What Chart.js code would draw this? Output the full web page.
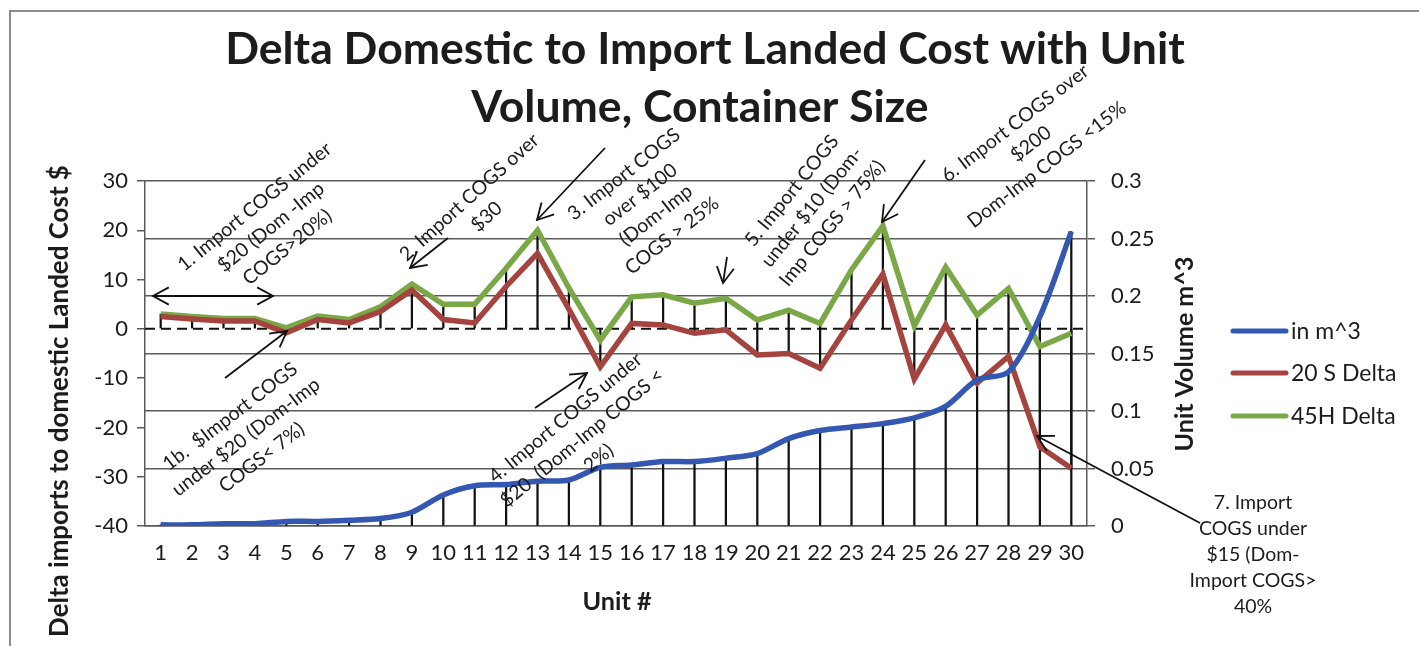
<!DOCTYPE html>
<html><head><meta charset="utf-8">
<script src="https://cdn.jsdelivr.net/npm/chart.js@4.4.1/dist/chart.umd.min.js"></script>
<style>html,body{margin:0;padding:0;background:#fff}canvas{display:block}</style>
</head><body>
<canvas id="c" width="1419" height="646"></canvas>
<script>
// ---------- data ----------
const units = ['1','2','3','4','5','6','7','8','9','10','11','12','13','14','15','16','17','18','19','20','21','22','23','24','25','26','27','28','29','30'];
const volumeM3 = [0.001,0.001,0.002,0.002,0.004,0.004,0.005,0.0065,0.012,0.027,0.035,0.036,0.039,0.040,0.051,0.053,0.056,0.056,0.059,0.063,0.076,0.083,0.086,0.089,0.094,0.104,0.127,0.134,0.182,0.256];
const delta20S = [2.5,2.0,1.6,1.6,-0.8,1.9,1.2,3.5,7.9,1.9,1.2,8.6,15.3,4.0,-7.7,1.1,0.8,-0.9,-0.2,-5.3,-5.0,-8.0,1.8,11.1,-10.2,0.8,-11.0,-5.6,-23.9,-28.3];
const delta45H = [3.0,2.5,2.1,2.1,0.2,2.6,1.9,4.5,9.1,5.0,5.0,12.3,20.0,8.3,-2.3,6.5,6.9,5.2,6.2,1.8,3.8,1.1,12.0,20.9,0.6,12.5,2.8,8.2,-3.6,-0.9];
const seriesNames = ['in m^3','20 S Delta','45H Delta'];
const leftAxisMin = -40, leftAxisMax = 30, leftAxisStep = 10;
const rightAxisMin = 0, rightAxisMax = 0.3, rightAxisStep = 0.05;
const zeroLine = 0;
const titleLines = ['Delta Domestic to Import Landed Cost with Unit','Volume, Container Size'];
const leftAxisTitle = 'Delta imports to domestic Landed Cost $';
const rightAxisTitle = 'Unit Volume m^3';
const xAxisTitle = 'Unit #';

// ---------- styles ----------
const FONT = 'Lato, "Open Sans", sans-serif';
const COLORS = ['#3458b2', '#a5433f', '#7aa847'];
const TXT = '#1c1c1c';
const GRID = '#5a5a5a';

// derived tables for high-low / drop lines
const hiLoPrimary = units.map((_, i) => [Math.min(delta20S[i], delta45H[i], zeroLine), Math.max(delta20S[i], delta45H[i], zeroLine)]);
const dropSecondary = units.map((_, i) => [rightAxisMin, volumeM3[i]]);

const annotations = [
  {lines:['1. Import COGS under','$20 (Dom -Imp','COGS>20%)'], x:271, y:227, a:-39},
  {lines:['1b.  $Import COGS','under $20 (Dom-Imp','COGS< 7%)'], x:246, y:437, a:-37.5},
  {lines:['2. Import COGS over','$30'], x:478, y:207, a:-42},
  {lines:['3. Import COGS','over $100','(Dom-Imp','COGS > 25%'], x:648, y:205, a:-38},
  {lines:['4. Import COGS under','$20  (Dom-Imp COGS <','2%)'], x:582, y:438, a:-39.5},
  {lines:['5. Import COGS','under $10 (Dom-','Imp COGS > 75%)'], x:812, y:207, a:-51},
  {lines:['6. Import COGS over','$200','Dom-Imp COGS <15%'], x:1031, y:144, a:-37.5},
  {lines:['7. Import','COGS under','$15 (Dom-','Import COGS>','40%'], x:1253, y:555, a:0}
];
const arrows = [
  {x1:153,y1:296,x2:273,y2:296,both:true},
  {x1:225,y1:378,x2:287,y2:331},
  {x1:448,y1:238,x2:410,y2:268},
  {x1:605,y1:148,x2:537,y2:220},
  {x1:535,y1:408,x2:587,y2:373},
  {x1:727,y1:257,x2:723,y2:283},
  {x1:925,y1:160,x2:882,y2:222},
  {x1:1200,y1:523,x2:1037,y2:436}
];

function fitSize(ctx, text, weight, target) {
  ctx.font = weight + ' 40px ' + FONT;
  return 40 * target / ctx.measureText(text).width;
}
function arrowHead(ctx, tx, ty, fx, fy) {
  const ang = Math.atan2(ty - fy, tx - fx), L = 18, h = 0.5;
  ctx.beginPath();
  ctx.moveTo(tx - L * Math.cos(ang - h), ty - L * Math.sin(ang - h));
  ctx.lineTo(tx, ty);
  ctx.lineTo(tx - L * Math.cos(ang + h), ty - L * Math.sin(ang + h));
  ctx.stroke();
}

const decor = {
  id: 'decor',
  beforeDatasetsDraw(chart) {
    const {ctx, chartArea: ca, scales} = chart;
    const y0 = scales.y.getPixelForValue(zeroLine);
    ctx.save();
    ctx.strokeStyle = '#111'; ctx.lineWidth = 2; ctx.setLineDash([10, 6]);
    ctx.beginPath(); ctx.moveTo(ca.left, y0); ctx.lineTo(ca.right, y0); ctx.stroke();
    ctx.restore();
  },
  afterDraw(chart) {
    const {ctx} = chart;
    ctx.save();
    // frame
    ctx.strokeStyle = '#8c8c8c'; ctx.lineWidth = 2;
    ctx.beginPath(); ctx.moveTo(10, 646); ctx.lineTo(10, 11); ctx.lineTo(1419, 11); ctx.stroke();
    ctx.fillStyle = TXT;
    // title
    const ts = fitSize(ctx, titleLines[0], 'bold', 960);
    ctx.font = 'bold ' + ts + 'px ' + FONT;
    ctx.textAlign = 'center'; ctx.textBaseline = 'alphabetic';
    ctx.fillText(titleLines[0], 705, 64);
    ctx.fillText(titleLines[1], 700, 122);
    // x axis title
    const xs = fitSize(ctx, xAxisTitle, 'bold', 69);
    ctx.font = 'bold ' + xs + 'px ' + FONT;
    ctx.fillText(xAxisTitle, 617, 610);
    // left axis title
    const ls = fitSize(ctx, leftAxisTitle, 'bold', 472);
    ctx.save(); ctx.translate(68, 401); ctx.rotate(-Math.PI / 2);
    ctx.font = 'bold ' + ls + 'px ' + FONT; ctx.fillText(leftAxisTitle, 0, 0); ctx.restore();
    // right axis title
    const rs = fitSize(ctx, rightAxisTitle, 'bold', 195);
    ctx.save(); ctx.translate(1193, 354); ctx.rotate(-Math.PI / 2);
    ctx.font = 'bold ' + rs + 'px ' + FONT; ctx.fillText(rightAxisTitle, 0, 0); ctx.restore();
    // legend
    const ly = [331, 373, 416];
    ctx.textAlign = 'left'; ctx.textBaseline = 'middle';
    ctx.font = '23px ' + FONT;
    seriesNames.forEach((n, i) => {
      ctx.strokeStyle = COLORS[i]; ctx.lineWidth = 5; ctx.lineCap = 'round';
      ctx.beginPath(); ctx.moveTo(1233, ly[i]); ctx.lineTo(1286, ly[i]); ctx.stroke();
      ctx.fillStyle = TXT; ctx.fillText(n, 1291, ly[i] + 1);
    });
    ctx.lineCap = 'butt';
    // annotations
    ctx.font = '19.5px ' + FONT; ctx.textAlign = 'center'; ctx.textBaseline = 'middle';
    const lh = 26;
    annotations.forEach(an => {
      ctx.save(); ctx.translate(an.x, an.y); ctx.rotate(an.a * Math.PI / 180);
      const n = an.lines.length;
      an.lines.forEach((t, i) => ctx.fillText(t, 0, (i - (n - 1) / 2) * lh));
      ctx.restore();
    });
    // arrows
    ctx.strokeStyle = '#111'; ctx.lineWidth = 1.8;
    arrows.forEach(a => {
      ctx.beginPath(); ctx.moveTo(a.x1, a.y1); ctx.lineTo(a.x2, a.y2); ctx.stroke();
      arrowHead(ctx, a.x2, a.y2, a.x1, a.y1);
      if (a.both) arrowHead(ctx, a.x1, a.y1, a.x2, a.y2);
    });
    ctx.restore();
  }
};

const tickFont = {family: FONT, size: 22};
new Chart(document.getElementById('c'), {
  data: {
    labels: units,
    datasets: [
      {type:'line', label:seriesNames[0], data:volumeM3, yAxisID:'y1', borderColor:COLORS[0], borderWidth:5.5, pointRadius:0, tension:0.3, order:0},
      {type:'line', label:seriesNames[1], data:delta20S, yAxisID:'y', borderColor:COLORS[1], borderWidth:5.5, pointRadius:0, tension:0, order:0},
      {type:'line', label:seriesNames[2], data:delta45H, yAxisID:'y', borderColor:COLORS[2], borderWidth:5.5, pointRadius:0, tension:0, order:0},
      {type:'bar', label:'hilo', data:hiLoPrimary, yAxisID:'y', backgroundColor:'#111', barThickness:1.6, grouped:false, order:5},
      {type:'bar', label:'drop', data:dropSecondary, yAxisID:'y1', backgroundColor:'#111', barThickness:1.6, grouped:false, order:5}
    ]
  },
  options: {
    responsive: false, animation: false,
    layout: {padding: {top: 181, left: 0, right: 0, bottom: 0}},
    plugins: {legend: {display: false}, tooltip: {enabled: false}, title: {display: false}},
    scales: {
      x: {type:'category', offset:true,
        grid:{display:false, drawTicks:false}, border:{color:GRID, width:1.5},
        ticks:{font:tickFont, color:TXT, padding:14, autoSkip:false, maxRotation:0},
        afterFit(s){ s.height = 120; }},
      y: {position:'left', min:leftAxisMin, max:leftAxisMax,
        ticks:{stepSize:leftAxisStep, font:tickFont, color:TXT, padding:9},
        grid:{drawOnChartArea:false, drawTicks:true, tickLength:8, color:GRID, lineWidth:1.5},
        border:{color:GRID, width:1.5},
        afterFit(s){ s.width = 145; }},
      y1: {position:'right', min:rightAxisMin, max:rightAxisMax,
        ticks:{stepSize:rightAxisStep, font:tickFont, color:TXT, padding:16, callback:v => String(+v.toFixed(2))},
        grid:{drawOnChartArea:true, drawTicks:true, tickLength:8, color:GRID, lineWidth:1.5},
        border:{color:GRID, width:1.5},
        afterFit(s){ s.width = 1419 - 1087; }}
    }
  },
  plugins: [decor]
});
</script>
</body></html>
